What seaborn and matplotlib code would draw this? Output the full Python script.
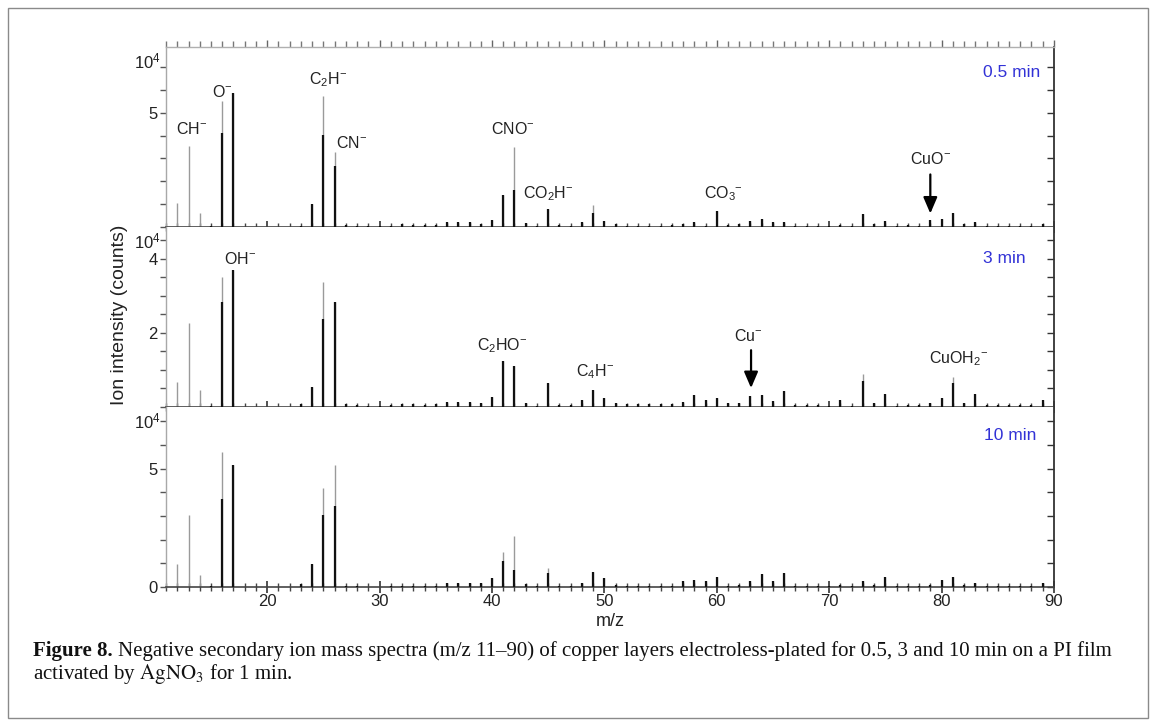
import matplotlib
matplotlib.use("Agg")
import numpy as np
import pandas as pd
import seaborn as sns
import matplotlib.pyplot as plt
from matplotlib.patches import Rectangle
from matplotlib.ticker import FixedLocator, MultipleLocator, FixedFormatter, NullFormatter

# ---------------- data (intensities in units of 10^4 counts) ----------------
mz = list(range(12, 90))

total_05 = [1.03, 3.54, 0.63, 0.05, 5.53, 5.87, 0, 0, 0, 0,
            0, 0.03, 1.02, 5.75, 3.29, 0.08, 0.05, 0.03, 0.03, 0.05,
            0.12, 0.08, 0.08, 0.10, 0.24, 0.22, 0.20, 0.12, 0.30, 1.40,
            3.50, 0.16, 0.05, 0.80, 0.08, 0.06, 0.20, 0.97, 0.27, 0.12,
            0.06, 0.06, 0.06, 0.06, 0.08, 0.15, 0.20, 0.06, 0.71, 0.10,
            0.12, 0.27, 0.37, 0.20, 0.22, 0.06, 0.03, 0.03, 0.03, 0.10,
            0.04, 0.56, 0.15, 0.27, 0.04, 0.10, 0.04, 0.30, 0.34, 0.62,
            0.15, 0.20, 0.04, 0.04, 0.04, 0.04, 0.04, 0.12]
core_05 = [0, 0, 0, 0.05, 4.13, 5.87, 0, 0, 0, 0,
           0, 0.03, 1.02, 4.03, 2.65, 0.08, 0.05, 0.03, 0.03, 0.05,
           0.12, 0.08, 0.08, 0.10, 0.24, 0.22, 0.20, 0.12, 0.30, 1.40,
           1.60, 0.16, 0.05, 0.80, 0.08, 0.06, 0.20, 0.60, 0.27, 0.12,
           0.06, 0.06, 0.06, 0.06, 0.08, 0.15, 0.20, 0.06, 0.71, 0.10,
           0.12, 0.27, 0.37, 0.20, 0.22, 0.06, 0.03, 0.03, 0.03, 0.10,
           0.04, 0.56, 0.15, 0.27, 0.04, 0.10, 0.04, 0.30, 0.34, 0.62,
           0.15, 0.20, 0.04, 0.04, 0.04, 0.04, 0.04, 0.12]

total_3 = [0.66, 2.27, 0.47, 0.03, 3.50, 3.68, 0, 0, 0, 0,
           0, 0.08, 0.55, 3.36, 2.84, 0.08, 0.05, 0.02, 0.02, 0.05,
           0.08, 0.08, 0.06, 0.08, 0.14, 0.14, 0.14, 0.12, 0.27, 1.23,
           1.11, 0.10, 0.03, 0.64, 0.05, 0.05, 0.18, 0.47, 0.23, 0.10,
           0.07, 0.07, 0.07, 0.07, 0.07, 0.14, 0.32, 0.18, 0.23, 0.10,
           0.10, 0.29, 0.32, 0.15, 0.44, 0.06, 0.05, 0.05, 0.03, 0.18,
           0.04, 0.89, 0.10, 0.36, 0.04, 0.06, 0.06, 0.10, 0.25, 0.80,
           0.10, 0.36, 0.05, 0.05, 0.05, 0.05, 0.05, 0.18]
core_3 = [0, 0, 0, 0.03, 2.84, 3.68, 0, 0, 0, 0,
          0, 0.08, 0.55, 2.38, 2.84, 0.08, 0.05, 0.02, 0.02, 0.05,
          0.08, 0.08, 0.06, 0.08, 0.14, 0.14, 0.14, 0.12, 0.27, 1.23,
          1.11, 0.10, 0.03, 0.64, 0.05, 0.05, 0.18, 0.47, 0.23, 0.10,
          0.07, 0.07, 0.07, 0.07, 0.07, 0.14, 0.32, 0.18, 0.23, 0.10,
          0.10, 0.29, 0.32, 0.15, 0.44, 0.06, 0.05, 0.05, 0.03, 0.18,
          0.04, 0.70, 0.10, 0.36, 0.04, 0.06, 0.06, 0.10, 0.25, 0.65,
          0.10, 0.36, 0.05, 0.05, 0.05, 0.05, 0.05, 0.18]

total_10 = [0.99, 3.02, 0.51, 0.03, 5.71, 5.17, 0, 0, 0, 0,
            0, 0.11, 0.99, 4.19, 5.17, 0.06, 0.03, 0.02, 0.02, 0.04,
            0.06, 0.05, 0.05, 0.06, 0.18, 0.18, 0.18, 0.18, 0.40, 1.46,
            2.17, 0.11, 0.03, 0.82, 0.06, 0.06, 0.18, 0.65, 0.40, 0.08,
            0.06, 0.06, 0.06, 0.06, 0.06, 0.25, 0.30, 0.25, 0.44, 0.06,
            0.08, 0.25, 0.54, 0.25, 0.57, 0.06, 0.03, 0.03, 0.03, 0.08,
            0.03, 0.25, 0.10, 0.42, 0.04, 0.04, 0.04, 0.10, 0.28, 0.44,
            0.08, 0.15, 0.04, 0.04, 0.04, 0.04, 0.04, 0.18]
core_10 = [0, 0, 0, 0.03, 3.73, 5.17, 0, 0, 0, 0,
           0, 0.11, 0.99, 3.05, 3.40, 0.06, 0.03, 0.02, 0.02, 0.04,
           0.06, 0.05, 0.05, 0.06, 0.18, 0.18, 0.18, 0.18, 0.40, 1.10,
           0.70, 0.11, 0.03, 0.61, 0.06, 0.06, 0.18, 0.65, 0.40, 0.08,
           0.06, 0.06, 0.06, 0.06, 0.06, 0.25, 0.30, 0.25, 0.44, 0.06,
           0.08, 0.25, 0.54, 0.25, 0.57, 0.06, 0.03, 0.03, 0.03, 0.08,
           0.03, 0.25, 0.10, 0.42, 0.04, 0.04, 0.04, 0.10, 0.28, 0.44,
           0.08, 0.15, 0.04, 0.04, 0.04, 0.04, 0.04, 0.18]

panel_names = ["0.5 min", "3 min", "10 min"]

# peak labels: (text, m/z, y in 10^4 counts)
labels_05 = [("CH$^{-}$", 13.3, 4.29), ("O$^{-}$", 16.0, 5.93),
             ("C$_2$H$^{-}$", 25.4, 6.46), ("CN$^{-}$", 27.5, 3.67),
             ("CNO$^{-}$", 41.9, 4.29), ("CO$_2$H$^{-}$", 45.0, 1.46),
             ("CO$_3$$^{-}$", 60.6, 1.46), ("CuO$^{-}$", 79.0, 2.96)]
labels_3 = [("OH$^{-}$", 17.6, 4.00), ("C$_2$HO$^{-}$", 40.9, 1.66),
            ("C$_4$H$^{-}$", 49.15, 0.96), ("Cu$^{-}$", 62.8, 1.92),
            ("CuOH$_2$$^{-}$", 81.5, 1.31)]
labels_10 = []
# arrows: (m/z, y_start, y_end)
arrows_05 = [(79.0, 2.30, 0.59)]
arrows_3 = [(63.05, 1.53, 0.51)]
arrows_10 = []

ylims = [7.88, 4.85, 7.6]
yticks = [[0, 1, 2, 3, 4, 5, 6, 7],
          [0, 0.5, 1, 1.5, 2, 2.5, 3, 3.5, 4, 4.5],
          [0, 1, 2, 3, 4, 5, 6, 7]]
ylabels_shown = [[5], [2, 4], [0, 5]]
name_pos = [(86.2, 6.77), (85.6, 4.01), (86.1, 6.38)]

frames = []
for name, tot, cor in zip(panel_names, [total_05, total_3, total_10],
                          [core_05, core_3, core_10]):
    frames.append(pd.DataFrame({"mz": mz, "total": tot, "core": cor, "time": name}))
df = pd.concat(frames, ignore_index=True)

# ---------------- style ----------------
sns.set_theme(style="ticks")
plt.rcParams["font.family"] = ["Liberation Sans", "DejaVu Sans"]
plt.rcParams["mathtext.fontset"] = "custom"
plt.rcParams["mathtext.rm"] = "Liberation Sans"
plt.rcParams["mathtext.it"] = "Liberation Sans:italic"
plt.rcParams["mathtext.bf"] = "Liberation Sans:bold"

fig, axes = plt.subplots(3, 1, sharex=True, figsize=(11.53, 7.22), dpi=100)
fig.subplots_adjust(left=0.144, right=0.9141, bottom=0.187, top=0.9349, hspace=0)

blue = "#3232d6"
gray = "#9a9a9a"

all_labels = [labels_05, labels_3, labels_10]
all_arrows = [arrows_05, arrows_3, arrows_10]

for i, (ax, name) in enumerate(zip(axes, panel_names)):
    d = df[df["time"] == name]
    ax.vlines(d["mz"], 0, d["total"], color=gray, lw=1.0, zorder=2)
    ax.vlines(d["mz"], 0, d["core"], color="#111111", lw=1.6, zorder=3)
    ax.set_xlim(11, 90)
    ax.set_ylim(0, ylims[i])

    ax.yaxis.set_major_locator(FixedLocator(yticks[i]))
    ax.yaxis.set_major_formatter(FixedFormatter(
        [(("%g" % t) if t in ylabels_shown[i] else "") for t in yticks[i]]))
    ax.tick_params(axis="y", which="major", direction="out", length=4,
                   width=1.0, color="#555555", labelsize=12, pad=2,
                   labelcolor="#222222")

    ax.xaxis.set_major_locator(MultipleLocator(10))
    ax.xaxis.set_minor_locator(MultipleLocator(1))
    ax.tick_params(axis="x", which="major", direction="inout", length=8,
                   width=1.2, color="#333333", labelsize=12, pad=1,
                   labelcolor="#222222")
    ax.tick_params(axis="x", which="minor", direction="inout", length=6,
                   width=1.0, color="#444444")

    sec = ax.secondary_yaxis("right")
    sec.set_yticks(yticks[i])
    sec.yaxis.set_major_formatter(NullFormatter())
    sec.tick_params(direction="in", length=5, width=1.0, color="#333333")
    sec.spines["right"].set_color("#333333")
    sec.spines["right"].set_linewidth(1.3)

    ax.spines["left"].set_color("#a8a8a8")
    ax.spines["left"].set_linewidth(1.0)
    ax.spines["right"].set_visible(False)
    ax.spines["bottom"].set_color("#444444")
    ax.spines["bottom"].set_linewidth(1.2)
    if i == 0:
        ax.spines["top"].set_color("#b0b0b0")
        ax.spines["top"].set_linewidth(1.0)
        top = ax.secondary_xaxis("top")
        top.xaxis.set_major_locator(MultipleLocator(10))
        top.xaxis.set_minor_locator(MultipleLocator(1))
        top.xaxis.set_major_formatter(NullFormatter())
        top.tick_params(which="major", direction="out", length=5, width=1.0, color="#666666")
        top.tick_params(which="minor", direction="out", length=4, width=1.0, color="#777777")
        top.spines["top"].set_visible(False)
    else:
        ax.spines["top"].set_visible(False)

    ax.text(-0.006, 0.918, "10$^4$", transform=ax.transAxes, ha="right",
            va="center", fontsize=12, color="#222222")
    ax.text(name_pos[i][0], name_pos[i][1], name,
            ha="center", va="center", fontsize=12.5, color=blue)

    for txt, x, y in all_labels[i]:
        ax.text(x, y, txt, ha="center", va="center", fontsize=11.5, color="#222222")
    for x, y0, y1 in all_arrows[i]:
        ax.annotate("", xy=(x, y1), xytext=(x, y0),
                    arrowprops=dict(arrowstyle="-|>,head_width=0.3,head_length=0.7",
                                    lw=1.6, color="black", shrinkA=0, shrinkB=0,
                                    mutation_scale=14), zorder=5)

fig.text(610 / 1153, 1 - 621 / 722, "m/z", ha="center", va="center",
         fontsize=13, color="#222222")
fig.text(120 / 1153, 1 - 315 / 722, "Ion intensity (counts)", rotation=90,
         ha="center", va="center", fontsize=14, color="#222222")

# frame
fig.patches.append(Rectangle((8 / 1153, 4 / 722), (1148 - 8) / 1153, (714 - 4) / 722,
                             transform=fig.transFigure, fill=False,
                             edgecolor="#8a8a8a", lw=1.0))

# caption
fig.canvas.draw()
r = fig.canvas.get_renderer()
cap_size = 15
y1 = 1 - 651 / 722
y2 = 1 - 674 / 722
x0 = 33 / 1153
t1 = fig.text(x0, y1, "Figure 8.", fontsize=cap_size, fontweight="bold",
              family="Liberation Serif", va="center", ha="left", color="#111111")
bb = t1.get_window_extent(renderer=r)
fig.text((bb.x1 + 5) / fig.bbox.width, y1,
         "Negative secondary ion mass spectra (m/z 11\u201390) of copper layers "
         "electroless-plated for 0.5, 3 and 10 min on a PI film",
         fontsize=cap_size, family="Liberation Serif", va="center", ha="left",
         color="#111111")
fig.text(x0, y2, r"activated by $\mathrm{AgNO_3}$ for 1 min.", fontsize=cap_size,
         family="Liberation Serif", va="center", ha="left", color="#111111",
         math_fontfamily="stix")

fig.savefig("out.png", dpi=100)
